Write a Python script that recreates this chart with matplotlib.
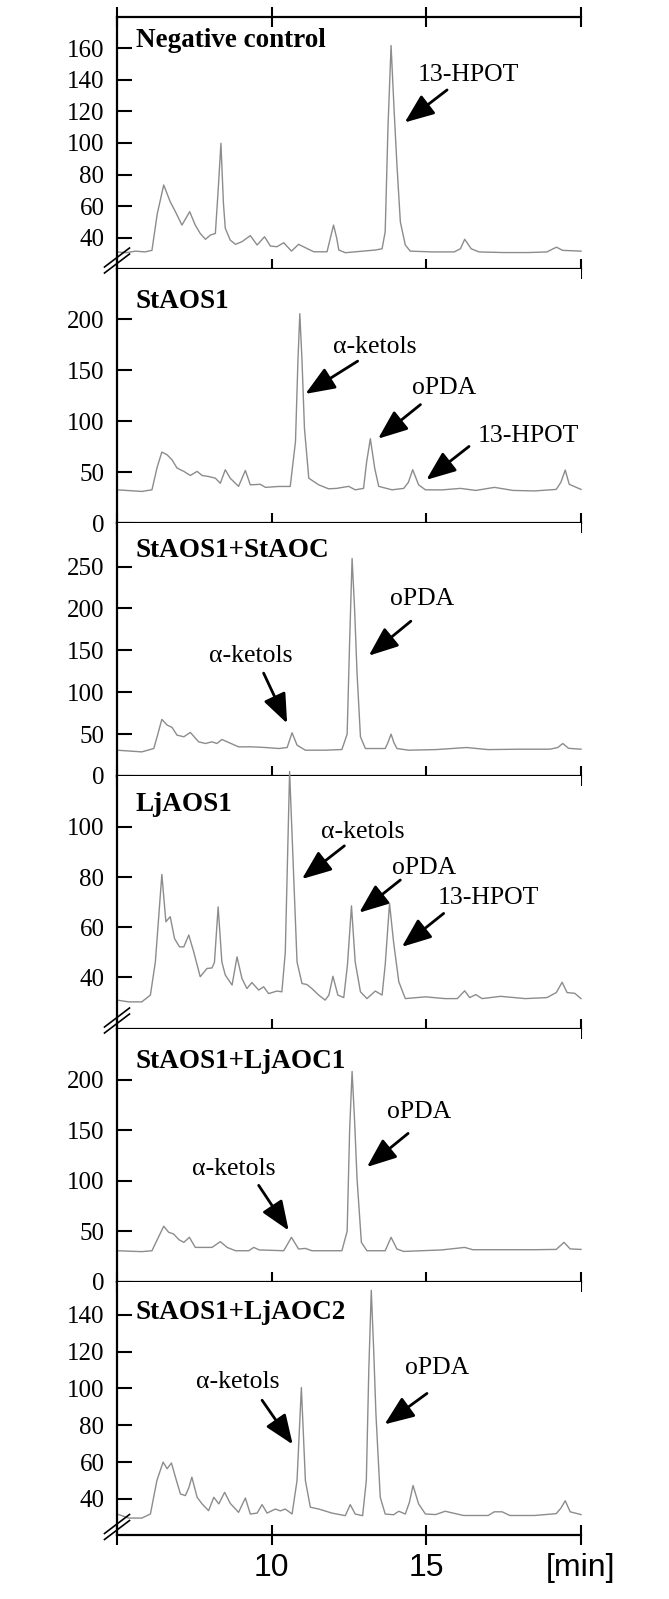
import matplotlib
matplotlib.use('Agg')
import matplotlib.pyplot as plt

plt.rcParams['font.family'] = ['Liberation Serif', 'DejaVu Serif']

# retention time (min) and signal
t_neg = [5.0, 5.3, 5.6, 5.9, 6.13, 6.3, 6.51, 6.72, 6.9, 7.10, 7.35, 7.53, 7.69, 7.86, 8.02, 8.18,
         8.27, 8.36, 8.44, 8.50, 8.66, 8.83, 9.04, 9.31, 9.53, 9.77, 9.96, 10.17, 10.39, 10.64, 10.87,
         11.14, 11.36, 11.79, 11.9, 12.0, 12.1, 12.17, 12.38, 13.35, 13.57, 13.67, 13.76, 13.86, 13.96,
         14.05, 14.16, 14.32, 14.48, 15.2, 15.9, 16.1, 16.24, 16.45, 16.7, 17.5, 18.3, 18.9, 19.1,
         19.21, 19.4, 20.0]
s_neg = [31, 30.5, 31.5, 31, 32, 55, 73.4, 62.8, 56, 48, 56.5, 48, 42.7, 39, 41.7, 42.7,
         70, 99.8, 62, 46, 38.5, 35.8, 37.5, 41.3, 35.4, 40.6, 34.7, 34.3, 36.8, 31.5, 35.8,
         33.2, 31.1, 31.1, 40, 48, 40, 32.2, 30.5, 32.2, 33, 43.8, 110, 161.7, 120,
         86, 50, 35.4, 31.5, 31, 31, 33, 39, 33, 31, 30.6, 30.6, 31, 33,
         34, 32, 31.5]

t_aos1 = [5.0, 5.8, 6.13, 6.3, 6.45, 6.62, 6.78, 6.94, 7.16, 7.37, 7.59, 7.75, 7.96, 8.18, 8.34, 8.50,
          8.66, 8.93, 9.15, 9.31, 9.63, 9.80, 10.23, 10.60, 10.77, 10.85, 10.91, 10.98, 11.06, 11.20,
          11.52, 11.84, 12.1, 12.49, 12.70, 12.97, 13.07, 13.19, 13.33, 13.46, 13.89, 14.27, 14.42,
          14.56, 14.75, 14.97, 15.5, 16.1, 16.6, 17.2, 17.8, 18.5, 19.2, 19.35, 19.49, 19.62, 20.0]
s_aos1 = [32.6, 31, 32.6, 55, 69.7, 67, 62, 54, 50.7, 46.7, 50.7, 46.7, 45.7, 44, 39, 52.3,
          44, 36, 51.6, 37.5, 38, 35, 35.9, 35.9, 80, 160, 205.6, 160, 93, 44,
          37.5, 33.6, 34, 36, 32.6, 34, 60, 82.8, 54, 36, 32.6, 34, 40,
          52.3, 37.5, 32.6, 32.5, 34, 32, 35, 32, 31.5, 33, 40, 52, 38, 33]

t_staoc = [5.0, 5.8, 6.19, 6.32, 6.45, 6.62, 6.78, 6.94, 7.16, 7.37, 7.64, 7.86, 8.07, 8.23, 8.39,
           8.61, 8.93, 9.36, 9.80, 10.23, 10.50, 10.66, 10.82, 11.09, 11.73, 12.27, 12.44, 12.52,
           12.60, 12.68, 12.76, 12.87, 13.03, 13.67, 13.76, 13.86, 13.95, 14.05, 14.43, 15.3, 16.3,
           17.0, 18.0, 19.0, 19.25, 19.41, 19.6, 20.0]
s_staoc = [30.8, 28.8, 32.8, 50, 67.6, 60.8, 58, 48.8, 46.8, 52, 40.8, 38.8, 40.8, 38.8, 43.6,
           40, 34.8, 34.8, 34, 32.8, 34, 51.6, 36.8, 30.8, 30.8, 31.6, 50, 160,
           259.6, 200, 122.8, 46.8, 32.8, 32.8, 40, 50, 40, 32.8, 30.8, 31.5, 34,
           31.5, 32, 32, 34, 38.8, 33, 32]

t_lj = [5.0, 5.38, 5.8, 6.08, 6.24, 6.45, 6.58, 6.72, 6.86, 7.02, 7.16, 7.32, 7.48, 7.69, 7.91, 8.07,
        8.15, 8.27, 8.39, 8.50, 8.72, 8.88, 9.04, 9.20, 9.36, 9.58, 9.74, 9.90, 10.17, 10.33, 10.44,
        10.58, 10.71, 10.82, 10.98, 11.14, 11.30, 11.52, 11.73, 11.85, 11.98, 12.14, 12.33, 12.45,
        12.58, 12.70, 12.87, 13.08, 13.35, 13.57, 13.67, 13.81, 13.94, 14.11, 14.32, 14.97, 15.6,
        16.0, 16.24, 16.4, 16.6, 16.8, 17.4, 18.2, 18.9, 19.2, 19.39, 19.55, 19.8, 20.0]
s_lj = [31, 30.3, 30.3, 33, 46.2, 81, 62.2, 64.2, 55.5, 52.2, 52.2, 56.9, 50.2, 40.3, 43.6, 43.8,
        46, 68.1, 46.2, 41, 37, 48.2, 39.6, 35.6, 38, 35, 36.3, 33.6, 34.6, 34.3, 50,
        122, 80.8, 46.2, 37.6, 37.2, 35.6, 33, 31, 33, 40.5, 33, 32, 45,
        68.5, 46.2, 34.3, 31.6, 34.6, 33, 45, 69.5, 54.2, 38.3, 31.6, 32.3, 31.6,
        31.6, 34.7, 32, 33.2, 31.6, 32.5, 31.6, 32, 34, 38.1, 34, 33.7, 31.6]

t_ljaoc1 = [5.0, 5.8, 6.13, 6.51, 6.67, 6.83, 7.0, 7.16, 7.34, 7.53, 8.07, 8.34, 8.56, 8.83, 9.26,
            9.42, 9.6, 10.39, 10.64, 10.87, 11.09, 11.30, 12.27, 12.44, 12.52, 12.60, 12.68, 12.76,
            12.90, 13.08, 13.67, 13.86, 14.05, 14.27, 15.5, 16.24, 16.5, 17.5, 18.5, 19.2, 19.45,
            19.65, 20.0]
s_ljaoc1 = [30.7, 29.8, 30.7, 55, 49, 47.3, 41.7, 39, 44, 34, 34, 39.7, 34, 30.7, 30.7,
            34, 31.5, 30.7, 44, 32.4, 33, 30.7, 30.7, 50, 150, 208.4, 160, 102,
            39, 30.7, 30.7, 44, 32.4, 30, 31.5, 34, 31.7, 31.7, 31.7, 32, 39,
            32.5, 32]

t_ljaoc2 = [5.0, 5.38, 5.8, 6.08, 6.29, 6.49, 6.62, 6.76, 6.89, 7.05, 7.21, 7.32, 7.42, 7.59, 7.75,
            7.96, 8.13, 8.29, 8.48, 8.66, 8.93, 9.15, 9.31, 9.53, 9.69, 9.85, 10.12, 10.28, 10.44,
            10.66, 10.82, 10.96, 11.09, 11.25, 11.52, 11.95, 12.38, 12.54, 12.70, 12.94, 13.06, 13.14,
            13.22, 13.30, 13.37, 13.51, 13.67, 13.94, 14.11, 14.32, 14.45, 14.57, 14.75, 14.97, 15.3,
            15.61, 16.2, 17.0, 17.2, 17.45, 17.7, 18.5, 19.2, 19.35, 19.49, 19.65, 20.0]
s_ljaoc2 = [31.8, 29.6, 29.6, 31.8, 50, 60, 56.4, 59.5, 51.8, 42.7, 41.8, 46, 51.8, 40.9, 37.3,
            33.6, 40.9, 37.3, 43.6, 37.6, 32.7, 40.5, 31.8, 32.3, 36.9, 32.3, 34.5, 33.5, 34.5,
            31.8, 50, 100.5, 50, 35.5, 34.5, 32.3, 30.9, 36.9, 31.8, 30.9, 50, 110,
            153.3, 120, 86.4, 40.9, 31.8, 31.4, 33.3, 31.8, 38, 47.3, 37.3, 31.8, 31.5,
            33.3, 31, 31, 33, 33, 31, 31, 32, 35, 39, 33, 31.5]

labels = ['Negative control', 'StAOS1', 'StAOS1+StAOC', 'LjAOS1', 'StAOS1+LjAOC1', 'StAOS1+LjAOC2']
label_y = [165, 218, 269, 109, 218, 141]
ylims = [(20.5, 179.8), (0, 250), (0, 302), (19.7, 120.2), (0, 251), (20.4, 158)]
yticks = [range(40, 161, 20), range(0, 201, 50), range(0, 251, 50),
          range(40, 101, 20), range(0, 201, 50), range(40, 141, 20)]
broken = [True, False, False, True, False, True]

# (text, text position, arrow tail, arrow tip)
notes = [
    [('13-HPOT', (16.35, 143), (15.67, 133.6), (14.30, 113))],
    [('α-ketols', (13.34, 173), (12.78, 159), (11.09, 126.8)),
     ('oPDA', (15.56, 132.6), (14.81, 116.3), (13.44, 82.8)),
     ('13-HPOT', (18.31, 85), (16.38, 75.2), (15.0, 42.4))],
    [('α-ketols', (9.33, 142.8), (9.74, 122.8), (10.50, 62.8)),
     ('oPDA', (14.85, 211.6), (14.5, 184.8), (13.14, 143.6))],
    [('α-ketols', (12.94, 98), (12.35, 92.4), (10.98, 79.2)),
     ('oPDA', (14.93, 83.4), (14.16, 78.8), (12.83, 65.8)),
     ('13-HPOT', (17.0, 71.5), (15.56, 65.5), (14.21, 52.2))],
    [('α-ketols', (8.79, 112), (9.58, 95.5), (10.55, 50.7)),
     ('oPDA', (14.78, 168.5), (14.41, 147), (13.08, 113.7))],
    [('α-ketols', (8.9, 103.6), (9.69, 93.6), (10.68, 69.6)),
     ('oPDA', (15.35, 110.9), (15.02, 97.3), (13.65, 80.5))],
]

traces = [(t_neg, s_neg), (t_aos1, s_aos1), (t_staoc, s_staoc),
          (t_lj, s_lj), (t_ljaoc1, s_ljaoc1), (t_ljaoc2, s_ljaoc2)]

W, H = 669, 1599
fig = plt.figure(figsize=(W / 100, H / 100), dpi=100)
edges = [17, 268.5, 523, 776, 1028.5, 1281.7, 1535]

for i in range(6):
    top, bot = edges[i], edges[i + 1]
    ax = fig.add_axes([117 / W, 1 - bot / H, 464 / W, (bot - top) / H])
    t, s = traces[i]
    ax.plot(t, s, color='#8c8c8c', lw=1.0, clip_on=False)
    ax.set_xlim(5, 20)
    ax.set_ylim(*ylims[i])
    ax.set_yticks(list(yticks[i]))

    ax.spines['right'].set_visible(False)
    ax.spines['top'].set_visible(i == 0)
    for sp in ax.spines.values():
        sp.set_linewidth(1.6)

    ax.tick_params(axis='y', direction='in', length=11, width=1.5, pad=9, labelsize=18)
    ax.tick_params(axis='x', direction='inout', length=14, width=1.5, top=(i == 0))
    ax.set_xticks([5, 10, 15, 20])
    if i == 5:
        ax.set_xticklabels(['', '10', '15', '[min]'], fontfamily='Liberation Sans', fontsize=23)
        ax.tick_params(axis='x', pad=6)
    else:
        ax.set_xticklabels([])

    ax.text(5.6, label_y[i], labels[i], fontsize=19.5, fontweight='bold',
            ha='left', va='center')

    for txt, pos, tail, tip in notes[i]:
        ax.text(pos[0], pos[1], txt, fontsize=18.5, ha='center', va='center')
        ax.annotate('', xy=tip, xytext=tail,
                    arrowprops=dict(arrowstyle='-|>,head_length=0.9,head_width=0.36',
                                    mutation_scale=20, lw=2.0, color='black',
                                    shrinkA=0, shrinkB=0))

    if broken[i]:
        h = (bot - top)
        for off in (-3, 3):
            ax.plot([-12.5 / 464, 12.5 / 464],
                    [(8 - 9.5 + off) / h, (8 + 9.5 + off) / h],
                    transform=ax.transAxes, color='black', lw=1.2, clip_on=False)

fig.savefig('out.png', dpi=100)
